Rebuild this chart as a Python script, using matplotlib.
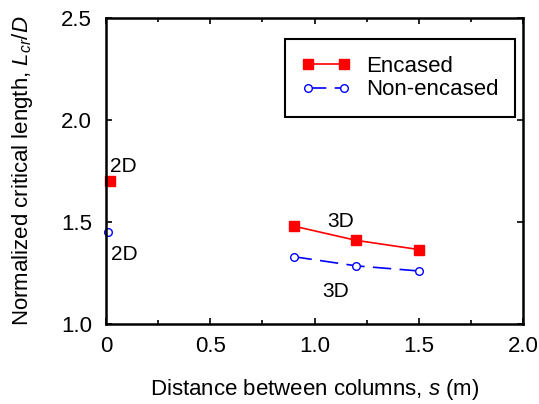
import numpy as np
import matplotlib
matplotlib.use('Agg')
import matplotlib.pyplot as plt
from matplotlib.ticker import MultipleLocator, FuncFormatter

plt.rcParams['font.family'] = ['Liberation Sans', 'DejaVu Sans']
plt.rcParams['mathtext.fontset'] = 'custom'
plt.rcParams['mathtext.it'] = 'Liberation Sans:italic'
plt.rcParams['mathtext.rm'] = 'Liberation Sans'

# data
enc_2d_x = [0.02]
enc_2d_y = [1.70]
non_2d_x = [0.01]
non_2d_y = [1.45]
enc_3d_x = [0.9, 1.2, 1.5]
enc_3d_y = [1.48, 1.41, 1.365]
non_3d_x = [0.9, 1.2, 1.5]
non_3d_y = [1.33, 1.285, 1.26]

fig = plt.figure(figsize=(5.39, 4.04), dpi=100)
ax = fig.add_axes([106/539, 1 - 324/404, 417/539, 306/404])

ax.plot(enc_3d_x, enc_3d_y, color='red', marker='s', ms=6.5, lw=1.2, label='Encased')
ax.plot(non_3d_x, non_3d_y, color='blue', marker='o', ms=5.5, mfc='white', lw=1.2,
        dashes=(11, 5), label='Non-encased')
ax.plot(enc_2d_x, enc_2d_y, color='red', marker='s', ms=6.5, ls='none', clip_on=False)
ax.plot(non_2d_x, non_2d_y, color='blue', marker='o', ms=5.5, mfc='white', ls='none', clip_on=False)

ax.text(0.02, 1.745, '2D', fontsize=15)
ax.text(0.024, 1.314, '2D', fontsize=15)
ax.text(1.06, 1.475, '3D', fontsize=15)
ax.text(1.036, 1.13, '3D', fontsize=15)

ax.set_xlim(0, 2.0)
ax.set_ylim(1.0, 2.5)
ax.xaxis.set_major_locator(MultipleLocator(0.5))
ax.xaxis.set_minor_locator(MultipleLocator(0.25))
ax.yaxis.set_major_locator(MultipleLocator(0.5))
ax.xaxis.set_major_formatter(FuncFormatter(lambda v, p: '0' if v == 0 else '%.1f' % v))
ax.yaxis.set_major_formatter(FuncFormatter(lambda v, p: '%.1f' % v))
ax.tick_params(which='both', direction='in', top=True, right=True, labelsize=16, width=1.2)
ax.tick_params(which='major', length=4)
ax.tick_params(axis='x', which='major', pad=9)
ax.tick_params(axis='y', which='major', pad=10)
ax.tick_params(which='minor', length=3)
for s in ax.spines.values():
    s.set_linewidth(1.8)

ax.set_xlabel('Distance between columns, $s$ (m)', fontsize=16, labelpad=14)
ax.set_ylabel('Normalized critical length, $L_{cr}/D$', fontsize=16, labelpad=19)

leg = ax.legend(loc='upper right', bbox_to_anchor=(0.981, 0.931), fontsize=16,
                fancybox=False, edgecolor='black', framealpha=1, handlelength=2.2,
                handletextpad=0.7, borderpad=0.75, labelspacing=0.12, numpoints=2,
                borderaxespad=0)
leg.get_frame().set_linewidth(1.5)

fig.savefig('out.png', dpi=100)
